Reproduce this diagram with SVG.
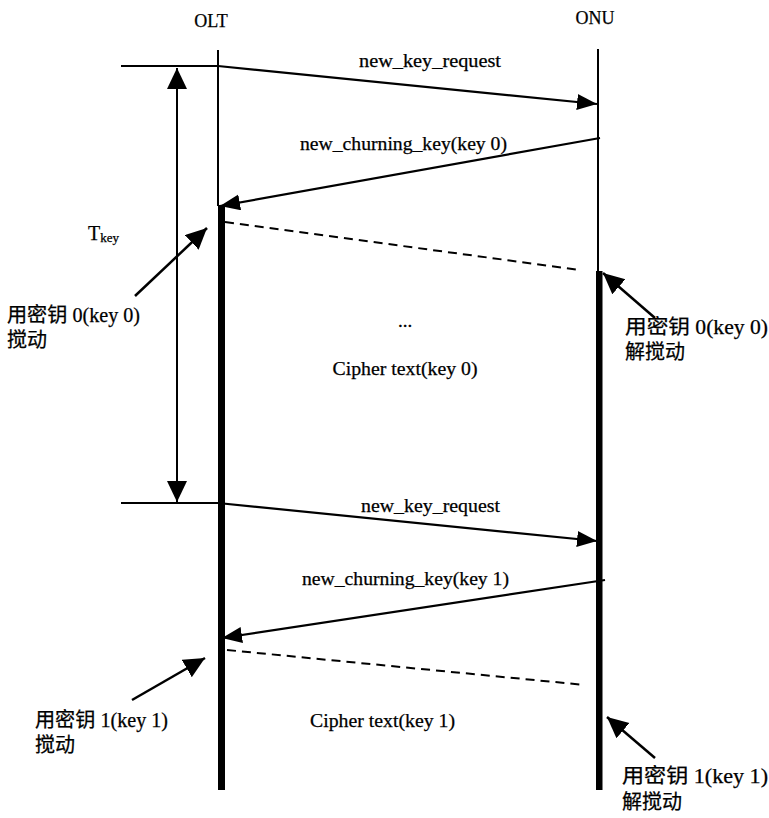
<svg xmlns="http://www.w3.org/2000/svg" width="769" height="818" viewBox="0 0 769 818">
<style>
text { font-family: "Liberation Serif", "Noto Sans CJK SC", serif; fill: #000; stroke: #000; stroke-width: 0.25; }
.hdr { font-size: 18px; text-anchor: middle; }
.msg { font-size: 19px; }
.lbl { font-size: 20px; }
.thin { stroke: #000; stroke-width: 2; fill: none; }
.arr { stroke: #000; stroke-width: 2.2; fill: none; marker-end: url(#ah); }
.ptr { stroke: #000; stroke-width: 2.5; fill: none; marker-end: url(#bh); }
.dash { stroke: #000; stroke-width: 2; fill: none; stroke-dasharray: 9 6; }
</style>
<defs>
<marker id="ah" markerUnits="userSpaceOnUse" markerWidth="22" markerHeight="18" refX="20" refY="8" orient="auto">
<path d="M0,0 L20,8 L0,16 z" fill="#000"/>
</marker>
<marker id="bh" markerUnits="userSpaceOnUse" markerWidth="23" markerHeight="21" refX="21" refY="10" orient="auto">
<path d="M0,0 L21,10 L0,20 z" fill="#000"/>
</marker>
<marker id="bs" markerUnits="userSpaceOnUse" markerWidth="23" markerHeight="21" refX="21" refY="10" orient="auto-start-reverse">
<path d="M0,0 L21,10 L0,20 z" fill="#000"/>
</marker>
</defs>

<g id="olt">
<text class="hdr" x="211" y="27">OLT</text>
<line class="thin" x1="218" y1="50" x2="218" y2="206"/>
<rect x="218" y="205" width="7" height="585" fill="#000"/>
</g>

<g id="onu">
<text class="hdr" x="595" y="24">ONU</text>
<line class="thin" x1="598" y1="49" x2="598" y2="272"/>
<rect x="596" y="271" width="6.5" height="519" fill="#000"/>
</g>

<g id="tkey">
<line class="thin" x1="121" y1="66" x2="218" y2="66"/>
<line class="thin" x1="121" y1="503" x2="218" y2="503"/>
<line stroke="#000" stroke-width="2" x1="177" y1="68" x2="177" y2="502" marker-start="url(#bs)" marker-end="url(#bh)"/>
<text class="lbl" x="88" y="240">T<tspan font-size="13" dy="2">key</tspan></text>
</g>

<g id="olt-scramble-0">
<text class="lbl" x="7" y="322" textLength="133" lengthAdjust="spacingAndGlyphs">用密钥 0(key 0)</text>
<text class="lbl" x="7" y="347">搅动</text>
</g>

<g id="onu-descramble-0">
<text class="lbl" x="625" y="334" textLength="143" lengthAdjust="spacingAndGlyphs">用密钥 0(key 0)</text>
<text class="lbl" x="625" y="359">解搅动</text>
</g>

<g id="olt-scramble-1">
<text class="lbl" x="35" y="727" textLength="133" lengthAdjust="spacingAndGlyphs">用密钥 1(key 1)</text>
<text class="lbl" x="35" y="752">搅动</text>
</g>

<g id="onu-descramble-1">
<text class="lbl" x="622" y="783" textLength="146" lengthAdjust="spacingAndGlyphs">用密钥 1(key 1)</text>
<text class="lbl" x="622" y="809">解搅动</text>
</g>

<g id="cipher-0">
<text class="msg" x="405" y="327" text-anchor="middle">...</text>
<text class="msg" x="405" y="375" text-anchor="middle" textLength="145" lengthAdjust="spacingAndGlyphs">Cipher text(key 0)</text>
</g>

<g id="cipher-1">
<text class="msg" x="310" y="727" textLength="145" lengthAdjust="spacingAndGlyphs">Cipher text(key 1)</text>
</g>

<g id="connectors">
<line class="arr" x1="218" y1="66" x2="597" y2="104"/>
<text class="msg" x="359" y="67" textLength="142" lengthAdjust="spacingAndGlyphs">new_key_request</text>
<line class="arr" x1="600" y1="138" x2="220" y2="206"/>
<text class="msg" x="300" y="150" textLength="207" lengthAdjust="spacingAndGlyphs">new_churning_key(key 0)</text>
<line class="dash" x1="225" y1="222" x2="580" y2="270"/>
<line class="arr" x1="218" y1="503" x2="597" y2="541"/>
<text class="msg" x="361" y="512" textLength="139" lengthAdjust="spacingAndGlyphs">new_key_request</text>
<line class="arr" x1="605" y1="580" x2="222" y2="638"/>
<text class="msg" x="302" y="585" textLength="207" lengthAdjust="spacingAndGlyphs">new_churning_key(key 1)</text>
<line class="dash" x1="227" y1="650" x2="585" y2="685"/>
<line class="ptr" x1="135" y1="296" x2="207" y2="228"/>
<line class="ptr" x1="655" y1="318" x2="603" y2="273"/>
<line class="ptr" x1="132" y1="700" x2="205" y2="658"/>
<line class="ptr" x1="655" y1="758" x2="607" y2="717"/>
</g>
</svg>
